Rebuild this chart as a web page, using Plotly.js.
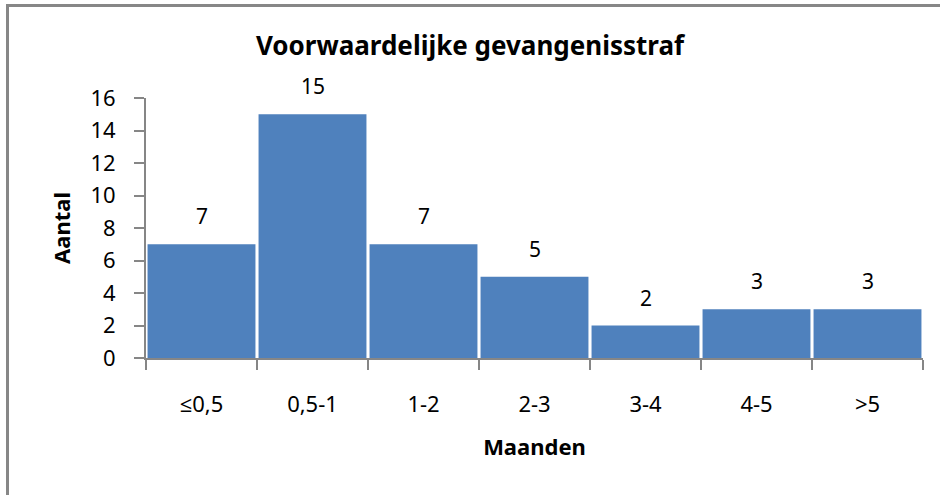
<!DOCTYPE html>
<html>
<head>
<meta charset="utf-8">
<script src="https://cdn.plot.ly/plotly-3.0.1.min.js"></script>
<style>
  html, body { margin: 0; padding: 0; background: #fff; }
  #wrap { position: relative; width: 940px; height: 495px; overflow: hidden; }
  #frame { position: absolute; left: 6px; top: 4px; width: 1000px; height: 600px;
           border-top: 3px solid #878787; border-left: 3px solid #878787; }
  #chart { position: absolute; left: 0; top: 0; width: 940px; height: 495px; }
</style>
</head>
<body>
<div id="wrap">
  <div id="frame"></div>
  <div id="chart"></div>
</div>
<script>
const categories = ["≤0,5", "0,5-1", "1-2", "2-3", "3-4", "4-5", ">5"];
const counts = [7, 15, 7, 5, 2, 3, 3];
const yTicks = [0, 2, 4, 6, 8, 10, 12, 14, 16];
const titleText = "Voorwaardelijke gevangenisstraf";
const xTitle = "Maanden";
const yTitle = "Aantal";

const FONT = "Noto Sans, Open Sans, sans-serif";
const GRAY = "#868686";

const trace = {
  type: "bar",
  x: categories,
  y: counts,
  marker: { color: "#4F81BD", line: { width: 0 } },
  hoverinfo: "x+y"
};

const annotations = categories.map((c, i) => ({
  x: c, y: counts[i], xref: "x", yref: "y",
  text: String(counts[i]), showarrow: false,
  yanchor: "middle", yshift: 28,
  font: { family: FONT, size: 21, color: "#000" }
}));

const layout = {
  width: 940, height: 495,
  paper_bgcolor: "rgba(0,0,0,0)",
  plot_bgcolor: "rgba(0,0,0,0)",
  margin: { l: 146, r: 17, t: 97.5, b: 137.3 },
  bargap: 0.028,
  showlegend: false,
  title: {
    text: "<b>" + titleText + "</b>",
    x: 0.5, xanchor: "center",
    y: 1 - 46 / 495, yanchor: "middle", yref: "container",
    font: { family: FONT, size: 26, color: "#000" }
  },
  xaxis: {
    type: "category",
    showline: true, linecolor: GRAY, linewidth: 2,
    ticks: "outside", tickson: "boundaries", ticklen: 10, tickcolor: GRAY, tickwidth: 1.5,
    ticklabelstandoff: 26,
    tickfont: { family: FONT, size: 22, color: "#000" },
    showgrid: false, zeroline: false,
    title: { text: "<b>" + xTitle + "</b>", standoff: 22,
             font: { family: FONT, size: 22, color: "#000" } }
  },
  yaxis: {
    range: [0, 16],
    tickvals: yTicks,
    showline: true, linecolor: GRAY, linewidth: 2,
    ticks: "outside", ticklen: 10, tickcolor: GRAY, tickwidth: 1.5,
    ticklabelstandoff: 14,
    tickfont: { family: FONT, size: 22, color: "#000" },
    showgrid: false, zeroline: false,
    title: { text: "<b>" + yTitle + "</b>", standoff: 14,
             font: { family: FONT, size: 22, color: "#000" } }
  },
  annotations: annotations
};

Plotly.newPlot("chart", [trace], layout, { displayModeBar: false, staticPlot: false });
</script>
</body>
</html>
